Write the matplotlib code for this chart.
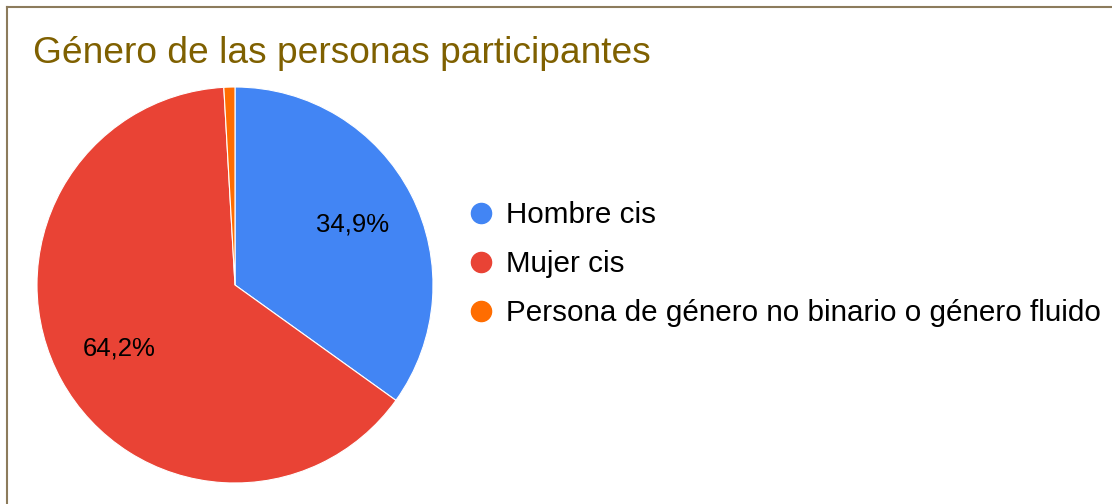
import matplotlib.pyplot as plt
from matplotlib.lines import Line2D

# Datos
categorias = ["Hombre cis", "Mujer cis", "Persona de género no binario o género fluido"]
valores = [34.9, 64.2, 0.9]
colores = ["#4285f4", "#e94335", "#ff6d01"]
titulo = "Género de las personas participantes"

plt.rcParams['font.family'] = ['Liberation Sans', 'DejaVu Sans']

W, H = 1112, 504
fig = plt.figure(figsize=(W / 100, H / 100), dpi=100)
fig.patch.set_facecolor('white')

# Eje del pastel: centro (235, 285) px, radio 198 px
cx, cy, r = 235, 285, 198
ax = fig.add_axes([(cx - r) / W, (H - cy - r) / H, 2 * r / W, 2 * r / H])


def etiqueta(p):
    return f"{p:.1f}%".replace(".", ",") if p >= 5 else ""


wedges, texts, autotexts = ax.pie(
    valores, colors=colores, startangle=90, counterclock=False,
    autopct=etiqueta, pctdistance=0.67,
    wedgeprops=dict(edgecolor='white', linewidth=0.8),
    textprops=dict(fontsize=18.5, color='black'))
ax.set_xlim(-1, 1)
ax.set_ylim(-1, 1)
ax.set_aspect('equal')
ax.axis('off')

# Título
fig.text(33 / W, 1 - 63 / H, titulo, fontsize=26.7, color='#7f6000', va='baseline', ha='left')

# Leyenda
handles = [Line2D([], [], marker='o', linestyle='', markersize=14.5,
                  markerfacecolor=c, markeredgecolor=c) for c in colores]
fig.legend(handles, categorias, loc='center left',
           bbox_to_anchor=(466 / W, 1 - 264 / H), frameon=False,
           fontsize=21.3, handlelength=1.0, handletextpad=0.34,
           labelspacing=0.71, borderpad=0, borderaxespad=0)

# Borde
borde = '#8c7b5c'
fig.add_artist(Line2D([7 / W, 1], [1 - 7 / H, 1 - 7 / H], color=borde, linewidth=1.5, transform=fig.transFigure))
fig.add_artist(Line2D([7 / W, 7 / W], [0, 1 - 7 / H], color=borde, linewidth=1.5, transform=fig.transFigure))

fig.savefig('out.png', dpi=100)
